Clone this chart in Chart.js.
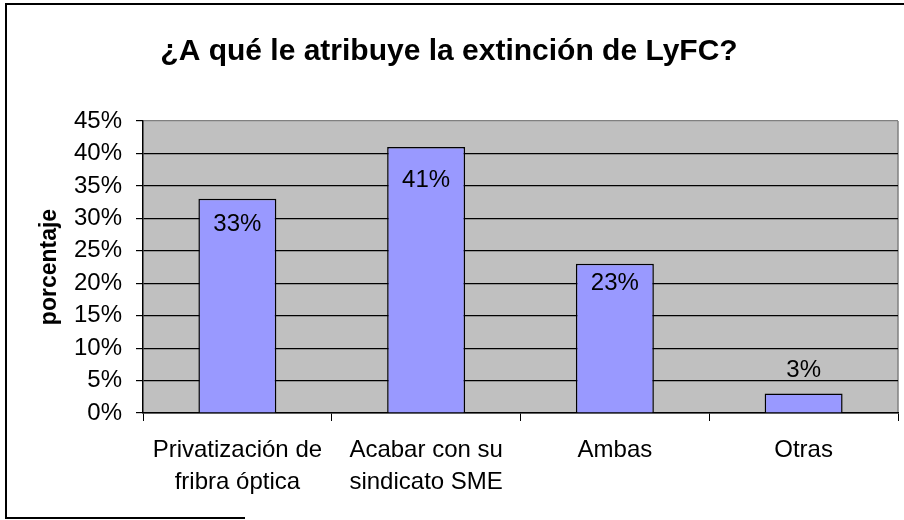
<!DOCTYPE html>
<html lang="es">
<head>
	<meta charset="UTF-8">
	<title>Extinción de LyFC</title>
	<script src="https://cdn.jsdelivr.net/npm/chart.js@4.4.0/dist/chart.umd.min.js"></script>
	<style>
		body { margin: 0; background: #fff; }
	</style>
</head>
<body>
	<canvas id="chart" width="904" height="520"></canvas>

	<script>
		// data
		const categories = [
			['Privatización de', 'fribra óptica'],
			['Acabar con su', 'sindicato SME'],
			'Ambas',
			'Otras'
		];
		const percentages = [33, 41, 23, 3];
		const yTicks = [0, 5, 10, 15, 20, 25, 30, 35, 40, 45];

		const FONT = "'Liberation Sans', Arial, sans-serif";

		// vertical shift of each value label from the top of its bar (px)
		const labelShift = [26, 33, 20, -23];

		const frame = {
			id: 'frame',
			beforeDraw(chart) {
				const ctx = chart.ctx;
				const a = chart.chartArea;
				ctx.save();
				ctx.fillStyle = '#fff';
				ctx.fillRect(0, 0, chart.width, chart.height);
				ctx.strokeStyle = '#000';
				ctx.lineWidth = 2;
				ctx.beginPath();
				ctx.moveTo(chart.width, 4);
				ctx.lineTo(6, 4);
				ctx.lineTo(6, 518);
				ctx.lineTo(245, 518);
				ctx.stroke();
				ctx.fillStyle = '#c0c0c0';
				ctx.fillRect(a.left, a.top, a.right - a.left, a.bottom - a.top);
				ctx.strokeStyle = '#808080';
				ctx.lineWidth = 1.5;
				ctx.beginPath();
				ctx.moveTo(a.right, a.top);
				ctx.lineTo(a.right, a.bottom);
				ctx.stroke();
				ctx.restore();
			}
		};

		const valueLabels = {
			id: 'valueLabels',
			afterDatasetsDraw(chart) {
				const ctx = chart.ctx;
				const meta = chart.getDatasetMeta(0);
				ctx.save();
				ctx.font = '24px ' + FONT;
				ctx.fillStyle = '#000';
				ctx.textAlign = 'center';
				ctx.textBaseline = 'middle';
				meta.data.forEach((bar, i) => {
					ctx.fillText(percentages[i] + '%', bar.x, bar.y + labelShift[i]);
				});
				ctx.restore();
			}
		};

		new Chart(document.getElementById('chart'), {
			type: 'bar',
			data: {
				labels: categories,
				datasets: [{
					data: percentages,
					backgroundColor: '#9999ff',
					borderColor: '#000',
					borderWidth: 1.5,
					barPercentage: 0.413,
					categoryPercentage: 1
				}]
			},
			options: {
				responsive: false,
				animation: false,
				layout: { padding: { left: 0, right: 6, top: 0, bottom: 0 } },
				plugins: {
					legend: { display: false },
					tooltip: { enabled: false },
					title: {
						display: true,
						text: '¿A qué le atribuye la extinción de LyFC?',
						color: '#000',
						font: { family: FONT, size: 30, weight: 'bold' },
						padding: { top: 34, bottom: 51 }
					}
				},
				scales: {
					x: {
						grid: {
							display: true,
							drawOnChartArea: false,
							drawTicks: true,
							tickLength: 8,
							offset: true,
							color: '#000'
						},
						border: { color: '#000', width: 1.5 },
						ticks: {
							color: '#000',
							padding: 13,
							maxRotation: 0,
							autoSkip: false,
							font: { family: FONT, size: 24, lineHeight: 1.33 }
						},
						afterFit(scale) { scale.height = 107; }
					},
					y: {
						min: 0,
						max: 45,
						afterBuildTicks(scale) {
							scale.ticks = yTicks.map(v => ({ value: v }));
						},
						grid: {
							color: ctx => ctx.tick && ctx.tick.value === 45 ? '#808080' : '#000',
							tickColor: '#000',
							tickLength: 7,
							lineWidth: 1.2
						},
						border: { color: '#000', width: 1.5 },
						ticks: {
							color: '#000',
							padding: 14,
							font: { family: FONT, size: 24 },
							callback: v => v + '%'
						},
						title: {
							display: true,
							text: 'porcentaje',
							color: '#000',
							font: { family: FONT, size: 23, weight: 'bold' },
							padding: { top: 36, bottom: 0 }
						},
						afterFit(scale) { scale.width = 143; }
					}
				}
			},
			plugins: [frame, valueLabels]
		});
	</script>
</body>
</html>
